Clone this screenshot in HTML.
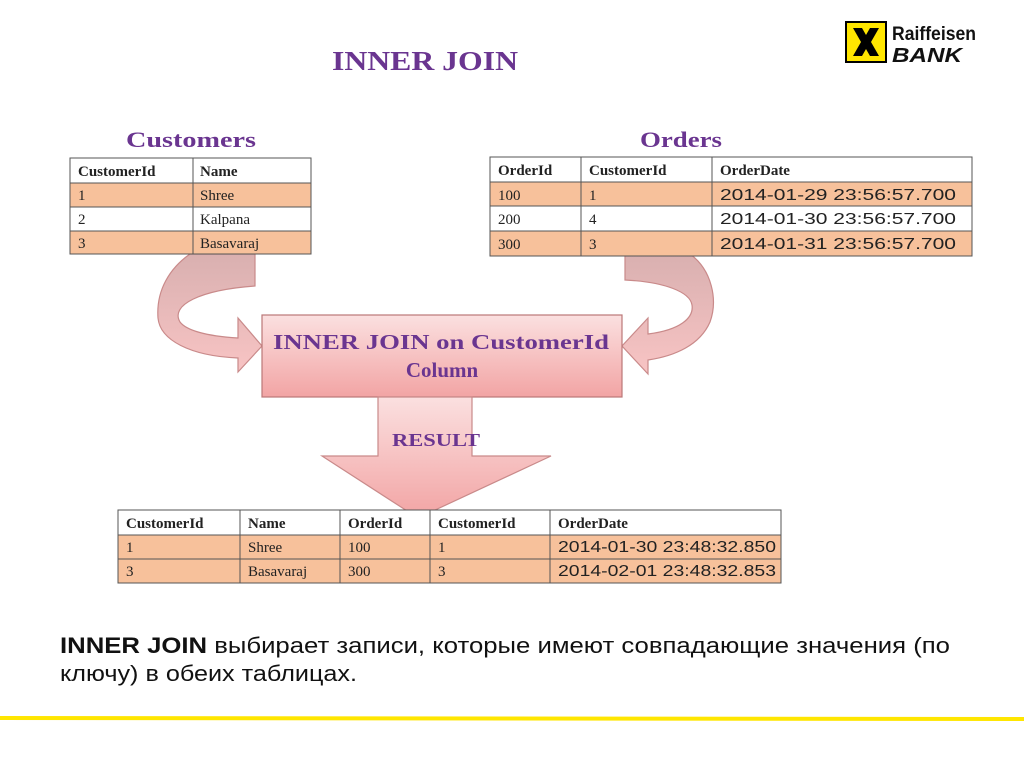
<!DOCTYPE html>
<html><head><meta charset="utf-8"><style>
html,body{margin:0;padding:0;background:#fff;}
body{width:1024px;height:767px;overflow:hidden;position:relative;}
svg{position:absolute;left:0;top:0;}
.t{font-family:"Liberation Serif",serif;font-size:15px;fill:#222;}
.h{font-weight:bold;}
.d{font-family:"Liberation Sans",sans-serif;font-size:16px;}
.p{font-family:"Liberation Serif",serif;font-weight:bold;fill:#6a3590;}
.c{font-family:"Liberation Sans",sans-serif;}
</style></head><body>
<svg width="1024" height="767" viewBox="0 0 1024 767">
<defs>
<linearGradient id="g" x1="0" y1="0" x2="0" y2="1"><stop offset="0" stop-color="#fbe0e0"/><stop offset="1" stop-color="#f2a4a4"/></linearGradient>
<linearGradient id="ga" x1="0" y1="0" x2="0" y2="1"><stop offset="0" stop-color="#d9b0b0"/><stop offset="1" stop-color="#f8c4c4"/></linearGradient>
</defs>
<!-- logo -->
<rect x="846" y="22" width="40" height="40" fill="#ffe600" stroke="#000" stroke-width="2"/>
<path d="M853 28 L862 28 L866 35 L870 28 L879 28 L871 42 L879 56 L870 56 L866 49 L862 56 L853 56 L861 42 Z" fill="#000"/>
<text x="892" y="40" class="c" font-size="19" font-weight="bold" fill="#111" textLength="84" lengthAdjust="spacingAndGlyphs">Raiffeisen</text>
<text x="892" y="62" class="c" font-size="20" font-weight="bold" font-style="italic" fill="#111" textLength="70" lengthAdjust="spacingAndGlyphs">BANK</text>
<!-- title -->
<text x="332" y="70" class="p" font-size="27" textLength="186" lengthAdjust="spacingAndGlyphs">INNER JOIN</text>
<text x="126" y="147" class="p" font-size="22" textLength="130" lengthAdjust="spacingAndGlyphs">Customers</text>
<text x="640" y="147" class="p" font-size="22" textLength="82" lengthAdjust="spacingAndGlyphs">Orders</text>
<!-- curved arrows -->
<path d="M190 254 L255 254 L255 286 C200 290 170 305 180 322 C186 330 205 336 238 338 L238 318 L262 346 L238 372 L238 358 C190 356 160 340 158 318 C156 290 170 268 190 254 Z" fill="url(#ga)" stroke="#c98a8a" stroke-width="1.2"/>
<path d="M625 254 L690 254 C712 270 718 300 710 322 C700 345 675 356 648 360 L648 374 L622 346 L648 318 L648 334 C680 330 694 318 692 305 C690 292 665 282 625 280 Z" fill="url(#ga)" stroke="#c98a8a" stroke-width="1.2"/>
<!-- center box -->
<rect x="262" y="315" width="360" height="82" fill="url(#g)" stroke="#b77" stroke-width="1.2"/>
<text x="273" y="349" class="p" font-size="21" textLength="336" lengthAdjust="spacingAndGlyphs">INNER JOIN on  CustomerId</text>
<text x="442" y="377" text-anchor="middle" class="p" font-size="21">Column</text>
<!-- result arrow -->
<path d="M378 397 L472 397 L472 456 L551 456 L418 518 L322 456 L378 456 Z" fill="url(#g)" stroke="#c98a8a" stroke-width="1.2"/>
<text x="392" y="446" class="p" font-size="18" textLength="88" lengthAdjust="spacingAndGlyphs">RESULT</text>
<!-- customers table -->
<g stroke="#555" stroke-width="1">
<rect x="70" y="158" width="241" height="25" fill="#fff"/>
<rect x="70" y="183" width="241" height="24" fill="#f7c19b"/>
<rect x="70" y="207" width="241" height="24" fill="#fff"/>
<rect x="70" y="231" width="241" height="23" fill="#f7c19b"/>
<line x1="193" y1="158" x2="193" y2="254"/>
</g>
<g class="t"><text x="78" y="176" class="h">CustomerId</text><text x="200" y="176" class="h">Name</text>
<text x="78" y="200">1</text><text x="200" y="200">Shree</text>
<text x="78" y="224">2</text><text x="200" y="224">Kalpana</text>
<text x="78" y="248">3</text><text x="200" y="248">Basavaraj</text></g>
<!-- orders table -->
<g stroke="#555" stroke-width="1">
<rect x="490" y="157" width="482" height="25" fill="#fff"/>
<rect x="490" y="182" width="482" height="24" fill="#f7c19b"/>
<rect x="490" y="206" width="482" height="25" fill="#fff"/>
<rect x="490" y="231" width="482" height="25" fill="#f7c19b"/>
<line x1="581" y1="157" x2="581" y2="256"/><line x1="712" y1="157" x2="712" y2="256"/>
</g>
<g class="t"><text x="498" y="175" class="h">OrderId</text><text x="589" y="175" class="h">CustomerId</text><text x="720" y="175" class="h">OrderDate</text>
<text x="498" y="200">100</text><text x="589" y="200">1</text><text x="720" y="200" class="d" textLength="236" lengthAdjust="spacingAndGlyphs">2014-01-29  23:56:57.700</text>
<text x="498" y="224">200</text><text x="589" y="224">4</text><text x="720" y="224" class="d" textLength="236" lengthAdjust="spacingAndGlyphs">2014-01-30  23:56:57.700</text>
<text x="498" y="249">300</text><text x="589" y="249">3</text><text x="720" y="249" class="d" textLength="236" lengthAdjust="spacingAndGlyphs">2014-01-31  23:56:57.700</text></g>
<!-- result table -->
<g stroke="#555" stroke-width="1">
<rect x="118" y="510" width="663" height="25" fill="#fff"/>
<rect x="118" y="535" width="663" height="24" fill="#f7c19b"/>
<rect x="118" y="559" width="663" height="24" fill="#f7c19b"/>
<line x1="240" y1="510" x2="240" y2="583"/><line x1="340" y1="510" x2="340" y2="583"/><line x1="430" y1="510" x2="430" y2="583"/><line x1="550" y1="510" x2="550" y2="583"/>
</g>
<g class="t"><text x="126" y="528" class="h">CustomerId</text><text x="248" y="528" class="h">Name</text><text x="348" y="528" class="h">OrderId</text><text x="438" y="528" class="h">CustomerId</text><text x="558" y="528" class="h">OrderDate</text>
<text x="126" y="552">1</text><text x="248" y="552">Shree</text><text x="348" y="552">100</text><text x="438" y="552">1</text><text x="558" y="552" class="d" textLength="218" lengthAdjust="spacingAndGlyphs">2014-01-30  23:48:32.850</text>
<text x="126" y="576">3</text><text x="248" y="576">Basavaraj</text><text x="348" y="576">300</text><text x="438" y="576">3</text><text x="558" y="576" class="d" textLength="218" lengthAdjust="spacingAndGlyphs">2014-02-01  23:48:32.853</text></g>
<!-- description -->
<text x="60" y="653" class="c" font-size="22" fill="#111" textLength="890" lengthAdjust="spacingAndGlyphs"><tspan font-weight="bold">INNER JOIN</tspan> выбирает записи, которые имеют совпадающие значения (по</text>
<text x="60" y="681" class="c" font-size="22" fill="#111" textLength="297" lengthAdjust="spacingAndGlyphs">ключу) в обеих таблицах.</text>
<!-- yellow line -->
<path d="M0 716 L1024 717 L1024 721 L0 720 Z" fill="#ffe600"/>
</svg>
</body></html>
